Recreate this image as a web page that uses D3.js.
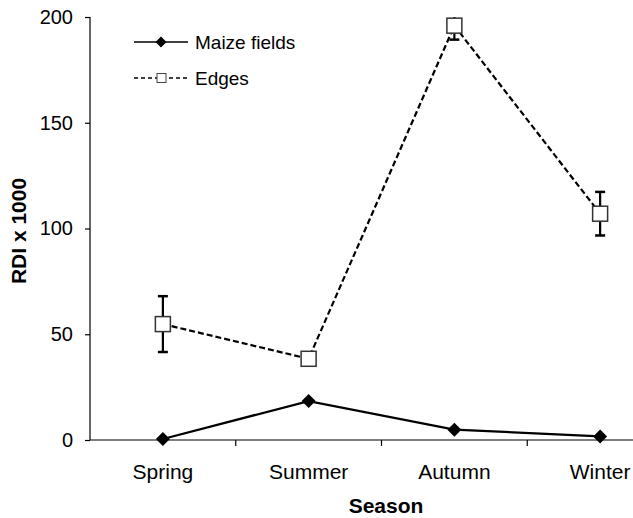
<!DOCTYPE html>
<html>
<head>
<meta charset="utf-8">
<script src="https://cdn.jsdelivr.net/npm/d3@7"></script>
<style>
	body { margin: 0; background: #fff; }
	text { font-family: Arial, "Liberation Sans", sans-serif; }
</style>
</head>
<body>
<svg id="chart" width="633" height="518"></svg>
<script>
var seasons = ["Spring", "Summer", "Autumn", "Winter"];
var maize = [0.5, 18.4, 4.9, 1.7];
var edges = [54.8, 38.4, 195.9, 107];
var edgesErr = [13.2, 0, 6.6, 10.3];
var yTicks = [0, 50, 100, 150, 200];

var svg = d3.select("#chart");
var W = 633, H = 518;

var x = d3.scaleBand().domain(seasons).range([90, 673]);
var y = d3.scaleLinear().domain([0, 200]).range([440, 17]);
var cx = d => x(d) + x.bandwidth() / 2;

// axes
var yAxis = svg.append("g").attr("transform", "translate(90,0)")
	.call(d3.axisLeft(y).tickValues(yTicks).tickSize(5).tickPadding(12));
var xAxis = svg.append("g").attr("transform", "translate(0,440)")
	.call(d3.axisBottom(x).tickSize(0).tickPadding(24));

[yAxis, xAxis].forEach(a => {
	a.attr("font-family", null).attr("font-size", null);
	a.selectAll("path, line").attr("stroke", "#000").attr("stroke-width", 1.2);
	a.selectAll("text").attr("fill", "#000");
});
yAxis.selectAll("text").style("font-size", "20px");
xAxis.selectAll("text").style("font-size", "21px");
yAxis.select(".domain").attr("d", "M0," + y(200) + "V" + y(0));
xAxis.select(".domain").attr("d", "M90,0H" + W);

// band boundary ticks on the x axis
svg.append("g").selectAll("line")
	.data(seasons.slice(1))
	.enter().append("line")
	.attr("x1", d => x(d)).attr("x2", d => x(d))
	.attr("y1", 440).attr("y2", 446)
	.attr("stroke", "#000").attr("stroke-width", 1.2);

// axis titles
svg.append("text").text("Season")
	.attr("x", 386).attr("y", 513)
	.style("font-size", "21px").style("font-weight", 700)
	.style("text-anchor", "middle");
svg.append("text").text("RDI x 1000")
	.attr("transform", "translate(26,231) rotate(-90)")
	.style("font-size", "21px").style("font-weight", 700)
	.style("text-anchor", "middle");

var line = d3.line().x((d, i) => cx(seasons[i])).y(d => y(d));

// edges: dashed line, error bars, squares
svg.append("path").datum(edges)
	.attr("d", line).attr("fill", "none")
	.attr("stroke", "#000").attr("stroke-width", 2.2)
	.attr("stroke-dasharray", "6,3");

var eb = svg.append("g").selectAll("g")
	.data(edges.map((v, i) => ({ s: seasons[i], v: v, e: edgesErr[i] })).filter(d => d.e > 0))
	.enter().append("g");
eb.append("line")
	.attr("x1", d => cx(d.s)).attr("x2", d => cx(d.s))
	.attr("y1", d => y(Math.min(d.v + d.e, 200))).attr("y2", d => y(d.v - d.e))
	.attr("stroke", "#000").attr("stroke-width", 2.2);
eb.append("line")
	.attr("x1", d => cx(d.s) - 5).attr("x2", d => cx(d.s) + 5)
	.attr("y1", d => y(d.v - d.e)).attr("y2", d => y(d.v - d.e))
	.attr("stroke", "#000").attr("stroke-width", 2.5);
eb.filter(d => d.v + d.e < 200).append("line")
	.attr("x1", d => cx(d.s) - 5).attr("x2", d => cx(d.s) + 5)
	.attr("y1", d => y(d.v + d.e)).attr("y2", d => y(d.v + d.e))
	.attr("stroke", "#000").attr("stroke-width", 2.5);

svg.append("g").selectAll("rect")
	.data(edges)
	.enter().append("rect")
	.attr("x", (d, i) => cx(seasons[i]) - 7.5).attr("y", d => y(d) - 7.5)
	.attr("width", 15).attr("height", 15)
	.attr("fill", "#fff").attr("stroke", "#333").attr("stroke-width", 1.5);

// maize: solid line with diamonds
svg.append("path").datum(maize)
	.attr("d", line).attr("fill", "none")
	.attr("stroke", "#000").attr("stroke-width", 2.2);

function diamond(r) { return "M0," + (-r) + "L" + r + ",0L0," + r + "L" + (-r) + ",0Z"; }

svg.append("g").selectAll("path")
	.data(maize)
	.enter().append("path")
	.attr("d", diamond(7))
	.attr("transform", (d, i) => `translate(${ cx(seasons[i]) },${ y(d) })`)
	.attr("fill", "#000");

// legend
var lg = svg.append("g");
lg.append("line").attr("x1", 134).attr("x2", 188).attr("y1", 42).attr("y2", 42)
	.attr("stroke", "#000").attr("stroke-width", 1.6);
lg.append("path").attr("d", diamond(5.5)).attr("transform", "translate(161,42)").attr("fill", "#000");
lg.append("text").text("Maize fields").attr("x", 195).attr("y", 49).style("font-size", "19px");

lg.append("line").attr("x1", 134).attr("x2", 188).attr("y1", 78).attr("y2", 78)
	.attr("stroke", "#000").attr("stroke-width", 1.6).attr("stroke-dasharray", "4,3");
lg.append("rect").attr("x", 157).attr("y", 73.5).attr("width", 9).attr("height", 9)
	.attr("fill", "#fff").attr("stroke", "#444").attr("stroke-width", 1);
lg.append("text").text("Edges").attr("x", 195).attr("y", 85).style("font-size", "19px");
</script>
</body>
</html>
